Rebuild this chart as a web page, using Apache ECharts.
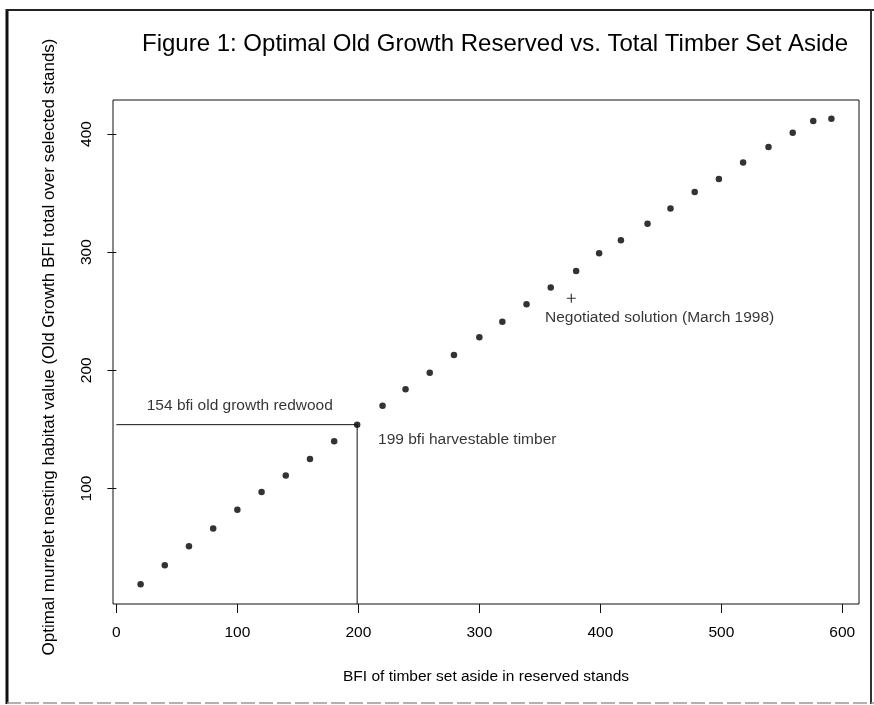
<!DOCTYPE html>
<html>
<head>
<meta charset="utf-8">
<style>
  html, body { margin: 0; padding: 0; background: #fff; }
  #chart { width: 874px; height: 705px; }
</style>
<script src="https://cdn.jsdelivr.net/npm/echarts@6/dist/echarts.min.js"></script>
</head>
<body>
<div id="chart"></div>
<script>
// timber set aside (x) vs optimal old growth reserved (y)
var timberSetAside = [20, 40, 60, 80, 100, 120, 140, 160, 180, 199, 220, 239, 259, 279, 300,
  319, 339, 359, 380, 399, 417, 439, 458, 478, 498, 518, 539, 559, 576, 591]
var oldGrowth = [19, 35, 51, 66, 82, 97, 111, 125, 140, 154, 170, 184, 198, 213, 228,
  241, 256, 270, 284, 299, 310, 324, 337, 351, 362, 376, 389, 401, 411, 413]
var negotiated = [376, 261]
var cutPoint = [199, 154]
var xTicks = [0, 100, 200, 300, 400, 500, 600]
var yTicks = [100, 200, 300, 400]
var notes = ['154 bfi old growth redwood', '199 bfi harvestable timber', 'Negotiated solution (March 1998)']
var notePos = [[102, 170], [290, 141], [449, 244.5]]

var FONT = '"Liberation Sans", Arial, Helvetica, sans-serif'
var xMin = -2.8, xMax = 613.8, yMin = 2.2, yMax = 428.8

var myEcharts = echarts.init(document.getElementById('chart'), null, { renderer: 'canvas' })

var points = timberSetAside.map(function (x, i) { return [x, oldGrowth[i]] })
var noteData = notes.map(function (t, i) { return { name: t, value: notePos[i] } })

var option = {
  animation: false,
  backgroundColor: '#fff',
  title: {
    text: 'Figure 1: Optimal Old Growth Reserved vs. Total Timber Set Aside',
    left: 490,
    top: 27,
    textAlign: 'center',
    textStyle: { fontFamily: FONT, fontSize: 24, fontWeight: 'normal', color: '#000' }
  },
  grid: {
    left: 113, right: 15, top: 100, bottom: 101,
    containLabel: false,
    outerBoundsMode: 'none',
    show: true,
    borderColor: '#111',
    borderWidth: 1
  },
  xAxis: {
    type: 'value',
    min: xMin, max: xMax,
    name: 'BFI of timber set aside in reserved stands',
    nameLocation: 'middle',
    nameGap: 65,
    nameTextStyle: { fontFamily: FONT, fontSize: 15.5, color: '#000' },
    axisLine: { show: false },
    splitLine: { show: false },
    axisTick: { show: true, inside: false, length: 9, customValues: xTicks, lineStyle: { color: '#111' } },
    axisLabel: { customValues: xTicks, margin: 21, fontFamily: FONT, fontSize: 15.5, color: '#000' }
  },
  yAxis: {
    type: 'value',
    min: yMin, max: yMax,
    name: 'Optimal murrelet nesting habitat value (Old Growth BFI total over selected stands)',
    nameLocation: 'middle',
    nameGap: 55,
    nameTextStyle: { fontFamily: FONT, fontSize: 17, color: '#000', padding: [0, 0, 0, 10] },
    axisLine: { show: false },
    splitLine: { show: false },
    axisTick: { show: true, inside: false, length: 9, customValues: yTicks, lineStyle: { color: '#111' } },
    axisLabel: { customValues: yTicks, rotate: 90, margin: 18, fontFamily: FONT, fontSize: 15.5, color: '#000' }
  },
  series: [
    {
      type: 'line',
      data: [[0, cutPoint[1]], cutPoint, [cutPoint[0], yMin]],
      symbol: 'none',
      lineStyle: { color: '#111', width: 1 },
      silent: true
    },
    {
      type: 'scatter',
      data: points,
      symbol: 'circle',
      symbolSize: 6.5,
      itemStyle: { color: '#000' }
    },
    {
      type: 'scatter',
      data: [negotiated],
      symbol: 'path://M4.35,0h1.3v10h-1.3z M0,4.35h10v1.3h-10z',
      symbolSize: 9,
      itemStyle: { color: '#000' }
    },
    {
      type: 'scatter',
      data: noteData,
      symbolSize: 0,
      silent: true,
      label: {
        show: true,
        position: 'inside',
        formatter: '{b}',
        fontFamily: FONT,
        fontSize: 15.5,
        color: '#000'
      }
    }
  ],
  graphic: [
    { type: 'line', shape: { x1: 7, y1: 9, x2: 7, y2: 704 }, style: { stroke: '#111', lineWidth: 3 } },
    { type: 'line', shape: { x1: 6, y1: 10, x2: 874, y2: 10 }, style: { stroke: '#222', lineWidth: 2 } },
    { type: 'line', shape: { x1: 871, y1: 10, x2: 871, y2: 704 }, style: { stroke: '#333', lineWidth: 2 } },
    { type: 'line', shape: { x1: 7, y1: 703, x2: 874, y2: 703 }, style: { stroke: '#999', lineWidth: 1.5, lineDash: [14, 4] } }
  ]
}

myEcharts.setOption(option)
</script>
</body>
</html>
